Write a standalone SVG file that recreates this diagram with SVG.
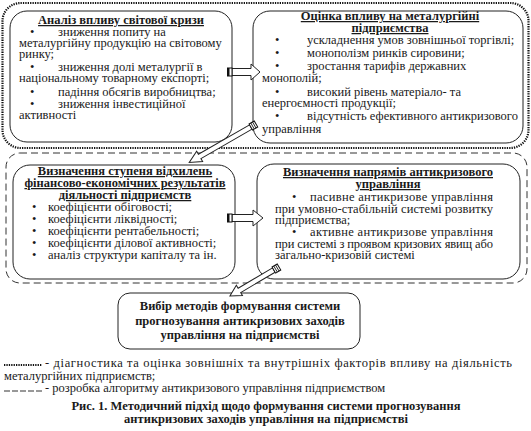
<svg xmlns="http://www.w3.org/2000/svg" width="531" height="431" viewBox="0 0 531 431">
<defs>
<style>
.t{font-family:"Liberation Serif","Times New Roman",serif;font-size:12.5px;fill:#1a1a1a}
.h{font-weight:bold;text-decoration:underline;text-anchor:middle}
.bc{font-weight:bold;text-anchor:middle}
.box{fill:#fff;stroke:#222;stroke-width:1}
.dot{fill:none;stroke:#111;stroke-width:2.2;stroke-dasharray:1.3 1.1}
.dash{fill:none;stroke:#333;stroke-width:1;stroke-dasharray:7 4}
.arr{fill:#fff;stroke:#222;stroke-width:1}
.tail{fill:#fff;stroke:#111;stroke-width:1}
</style>
</defs>
<rect width="531" height="431" fill="#fff"/>

<g id="frames">
<rect class="dot" x="2.5" y="3" width="526" height="145" rx="18"/>
<rect class="dash" x="6" y="153" width="521" height="130" rx="14"/>
</g>

<g id="node-crisis">
<rect class="box" x="10" y="11" width="222" height="131" rx="17"/>
<text class="t h" x="121" y="24">Аналіз впливу світової кризи</text>
<text class="t" x="30" y="36">•</text><text class="t" x="58" y="36">зниження попиту на</text>
<text class="t" x="19" y="47">металургійну продукцію на світовому</text>
<text class="t" x="19" y="58">ринку;</text>
<text class="t" x="30" y="71">•</text><text class="t" x="58" y="71">зниження долі металургії в</text>
<text class="t" x="19" y="82">національному товарному експорті;</text>
<text class="t" x="30" y="96">•</text><text class="t" x="58" y="96">падіння обсягів виробництва;</text>
<text class="t" x="30" y="108">•</text><text class="t" x="58" y="108">зниження інвестиційної</text>
<text class="t" x="19" y="119">активності</text>
</g>

<g id="node-impact">
<rect class="box" x="253" y="11" width="270" height="132" rx="17"/>
<text class="t h" x="390" y="20">Оцінка впливу на металургійні</text>
<text class="t h" x="390" y="32">підприємства</text>
<text class="t" x="275" y="44">•</text><text class="t" x="307" y="44">ускладнення умов зовнішньої торгівлі;</text>
<text class="t" x="275" y="57">•</text><text class="t" x="307" y="57">монополізм ринків сировини;</text>
<text class="t" x="275" y="70">•</text><text class="t" x="307" y="70">зростання тарифів державних</text>
<text class="t" x="262" y="82">монополій;</text>
<text class="t" x="275" y="96">•</text><text class="t" x="307" y="96">високий рівень матеріало- та</text>
<text class="t" x="262" y="107">енергоємності продукції;</text>
<text class="t" x="275" y="120">•</text><text class="t" x="307" y="120">відсутність ефективного антикризового</text>
<text class="t" x="262" y="133">управління</text>
</g>

<g id="node-deviation">
<rect class="box" x="13" y="165" width="222" height="114" rx="17"/>
<text class="t h" x="125" y="175">Визначення ступеня відхилень</text>
<text class="t h" x="125" y="187">фінансово-економічних результатів</text>
<text class="t h" x="125" y="199">діяльності підприємств</text>
<text class="t" x="32" y="211">•</text><text class="t" x="48" y="211">коефіцієнти обіговості;</text>
<text class="t" x="32" y="223">•</text><text class="t" x="48" y="223">коефіцієнти ліквідності;</text>
<text class="t" x="32" y="235">•</text><text class="t" x="48" y="235">коефіцієнти рентабельності;</text>
<text class="t" x="32" y="247">•</text><text class="t" x="48" y="247">коефіцієнти ділової активності;</text>
<text class="t" x="32" y="259">•</text><text class="t" x="48" y="259">аналіз структури капіталу та ін.</text>
</g>

<g id="node-directions">
<rect class="box" x="257" y="164" width="263" height="115" rx="17"/>
<text class="t h" x="388" y="176">Визначення напрямів антикризового</text>
<text class="t h" x="388" y="188">управління</text>
<text class="t" x="292" y="201">•</text><text class="t" x="310" y="201" textLength="183" lengthAdjust="spacing">пасивне антикризове управління</text>
<text class="t" x="275" y="213" textLength="218" lengthAdjust="spacing">при умовно-стабільній системі розвитку</text>
<text class="t" x="275" y="224">підприємства;</text>
<text class="t" x="292" y="236">•</text><text class="t" x="310" y="236" textLength="183" lengthAdjust="spacing">активне антикризове управління</text>
<text class="t" x="275" y="248" textLength="218" lengthAdjust="spacing">при системі з проявом кризових явищ або</text>
<text class="t" x="275" y="259">загально-кризовій системі</text>
</g>

<g id="node-methods">
<rect class="box" x="118" y="293" width="242" height="56" rx="12"/>
<text class="t bc" x="240" y="310">Вибір методів формування системи</text>
<text class="t bc" x="240" y="325">прогнозування антикризових заходів</text>
<text class="t bc" x="240" y="339">управління на підприємстві</text>
</g>

<g id="connectors">
<path class="arr" d="M232,68.5 H251 V64 L260,72 L251,80 V75.5 H232 Z"/>
<rect class="tail" x="227.5" y="68" width="4.5" height="8"/><line x1="228.5" y1="68" x2="228.5" y2="76" stroke="#111" stroke-width="2"/>
<path class="arr" d="M232,214.5 H253 V210 L263,218 L253,226 V221.5 H232 Z"/>
<rect class="tail" x="227.5" y="214" width="4.5" height="8"/><line x1="228.5" y1="214" x2="228.5" y2="222" stroke="#111" stroke-width="2"/>
<g transform="translate(256,124) rotate(150.1)">
<path class="arr" d="M6,-2.5 H65 V-6 L77,0 L65,6 V2.5 H6 Z"/>
<rect class="tail" x="0" y="-3.5" width="6" height="7"/>
<line x1="2" y1="-3.5" x2="2" y2="3.5" stroke="#111" stroke-width="0.8"/><line x1="4" y1="-3.5" x2="4" y2="3.5" stroke="#111" stroke-width="0.8"/>
</g>
<g transform="translate(279,267) rotate(149.4)">
<path class="arr" d="M6,-2.5 H46 V-6 L57,0 L46,6 V2.5 H6 Z"/>
<rect class="tail" x="0" y="-3.5" width="6" height="7"/>
<line x1="2" y1="-3.5" x2="2" y2="3.5" stroke="#111" stroke-width="0.8"/><line x1="4" y1="-3.5" x2="4" y2="3.5" stroke="#111" stroke-width="0.8"/>
</g>
</g>

<g id="legend">
<line x1="4" y1="365" x2="42" y2="365" stroke="#111" stroke-width="2.2" stroke-dasharray="1.3 1.1"/>
<text class="t" x="45" y="367" textLength="467" lengthAdjust="spacing">- діагностика та оцінка зовнішніх та внутрішніх факторів впливу на діяльність</text>
<text class="t" x="4" y="380">металургійних підприємств;</text>
<line x1="4" y1="391" x2="42" y2="391" stroke="#333" stroke-width="1" stroke-dasharray="6 2"/>
<text class="t" x="45" y="392">- розробка алгоритму антикризового управління підприємством</text>
<text class="t bc" x="266" y="410">Рис. 1. Методичний підхід щодо формування системи прогнозування</text>
<text class="t bc" x="266" y="423">антикризових заходів управління на підприємстві</text>
</g>
</svg>
